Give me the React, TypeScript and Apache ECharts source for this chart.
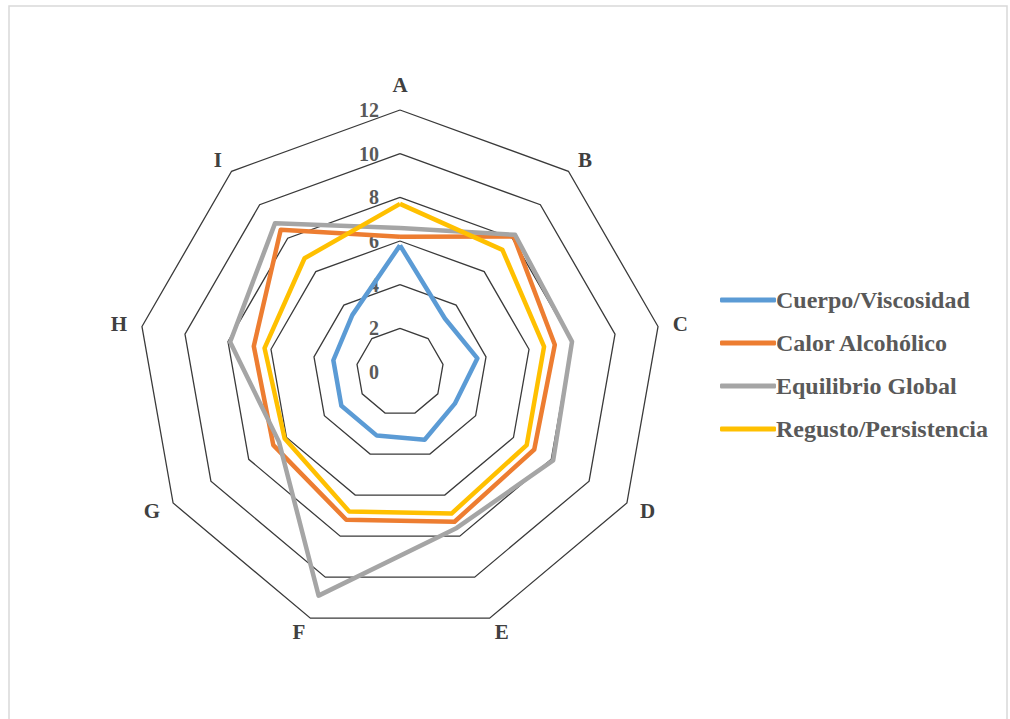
import React, { useEffect, useRef } from "react";
import * as echarts from "echarts";

const indicatorNames = ["A", "B", "C", "D", "E", "F", "G", "H", "I"];
const axisMax = 12;
const seriesNames = ["Cuerpo/Viscosidad", "Calor Alcohólico", "Equilibrio Global", "Regusto/Persistencia"];
const cuerpo = [5.8, 3.2, 3.6, 2.9, 3.3, 3.1, 3.1, 3.1, 3.4];
const calor = [6.2, 8.1, 7.2, 7.1, 7.3, 7.2, 6.7, 6.8, 8.5];
const equilibrio = [6.6, 8.2, 8.0, 8.1, 7.6, 10.9, 6.4, 7.9, 8.9];
const regusto = [7.7, 7.3, 6.7, 6.7, 6.9, 6.8, 6.1, 6.3, 6.8];
const seriesColors = ["#5B9BD5", "#ED7D31", "#A5A5A5", "#FFC000"];

// ECharts radar runs counter-clockwise; reorder so A..I run clockwise
const order = [0, 8, 7, 6, 5, 4, 3, 2, 1];
const reorder = (arr: number[]) => order.map((i) => arr[i]);

export default function App() {
  const ref = useRef<HTMLDivElement>(null);
  useEffect(() => {
    if (!ref.current) return;
    const chart = echarts.init(ref.current, undefined, { renderer: "svg" });
    const fontFamily = "'Liberation Serif', 'Times New Roman', serif";
    const allSeries = [cuerpo, calor, equilibrio, regusto];
    chart.setOption({
      animation: false,
      textStyle: { fontFamily },
      graphic: [
        {
          type: "rect",
          shape: { x: 9, y: 6, width: 998, height: 730 },
          style: { fill: "none", stroke: "#d9d9d9", lineWidth: 1.5 },
          silent: true,
        },
      ],
      legend: {
        orient: "vertical",
        left: 715,
        top: 283,
        itemWidth: 56,
        itemHeight: 5,
        itemGap: 19,
        icon: "roundRect",
        data: seriesNames,
        textStyle: {
          fontFamily,
          fontSize: 24,
          fontWeight: "bold",
          color: "#595959",
          padding: [0, 0, 0, -5],
        },
      },
      radar: {
        center: [400, 372],
        radius: 262,
        startAngle: 90,
        shape: "polygon",
        splitNumber: 6,
        axisName: {
          color: "#404040",
          fontSize: 21,
          fontWeight: "bold",
          fontFamily,
        },
        nameGap: 15,
        splitLine: { lineStyle: { color: "#3a3a3a", width: 1.3 } },
        splitArea: { show: false },
        axisLine: { show: false },
        axisTick: { show: false },
        axisLabel: { show: false },
        indicator: reorder(indicatorNames.map((_, i) => i)).map((idx, k) => ({
          name: indicatorNames[idx],
          min: 0,
          max: axisMax,
          ...(k === 0
            ? {
                axisLabel: {
                  show: true,
                  color: "#595959",
                  fontSize: 20,
                  fontWeight: "bold",
                  fontFamily,
                  margin: 21,
                },
              }
            : {}),
        })),
      },
      series: [
        {
          type: "radar",
          symbol: "none",
          data: allSeries.map((vals, i) => ({
            name: seriesNames[i],
            value: reorder(vals),
            lineStyle: { color: seriesColors[i], width: 4.5 },
            itemStyle: { color: seriesColors[i] },
          })),
        },
      ],
    });
    return () => chart.dispose();
  }, []);
  return (
    <div
      ref={ref}
      style={{ position: "fixed", left: 0, top: 0, width: 1010, height: 719, background: "#fff" }}
    />
  );
}
